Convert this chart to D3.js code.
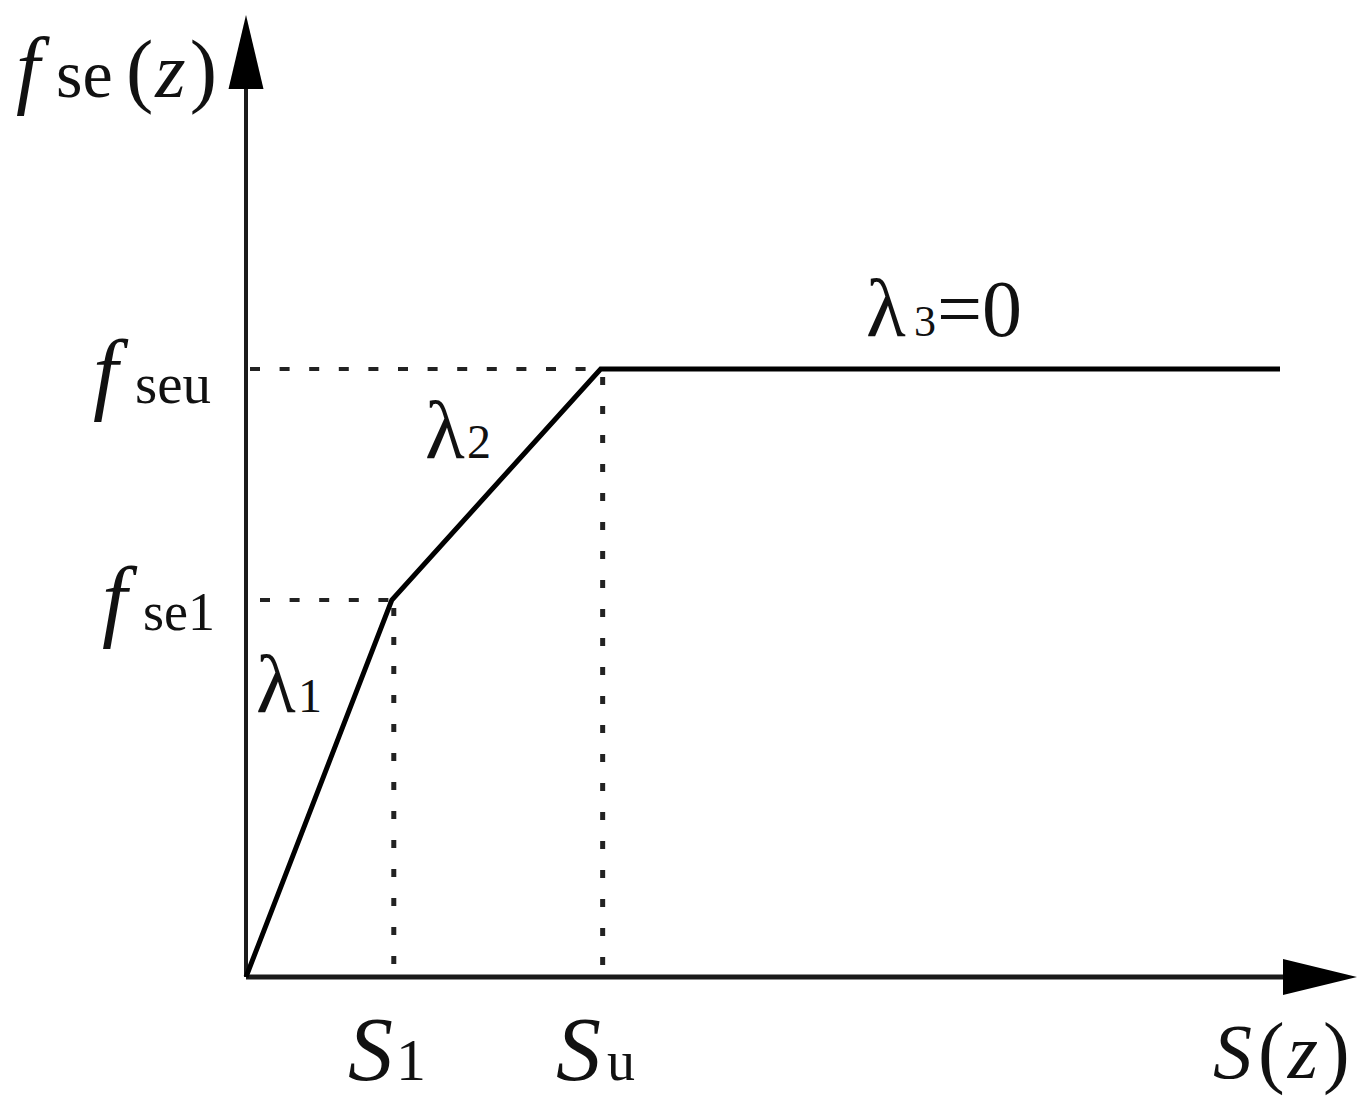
<!DOCTYPE html>
<html>
<head>
<meta charset="utf-8">
<script src="https://cdn.jsdelivr.net/npm/d3@7.9.0/dist/d3.min.js"></script>
<style>
  body { margin: 0; background: #fff; }
  svg { display: block; }
  text { font-family: "Liberation Serif", "Times New Roman", serif; fill: #111; }
</style>
</head>
<body>
<div id="chart"></div>
<script>
// breakpoints of the trilinear model (arbitrary units)
const sLabels = ["S1", "Su"];
const sValues = [14.1, 34.3];
const fLabels = ["fse1", "fseu"];
const fValues = [62.0, 100];
const curveS = [0, 14.1, 34.3, 100];
const curveF = [0, 62.0, 100, 100];
const slopeLabels = ["1", "2", "3=0"];

const width = 1371;
const height = 1117;

const xScale = d3.scaleLinear().domain([0, 100]).range([246, 1280]);
const yScale = d3.scaleLinear().domain([0, 100]).range([977, 369]);

const svg = d3.select("#chart")
  .append("svg")
  .attr("width", width)
  .attr("height", height);

// dotted guide lines
const guides = svg.append("g").attr("class", "guides");

fValues.forEach((f, i) => {
  guides.append("line")
    .attr("x1", xScale(0) + (i === 0 ? 14 : 4))
    .attr("x2", xScale(sValues[i]))
    .attr("y1", yScale(f))
    .attr("y2", yScale(f))
    .attr("stroke", "#222")
    .attr("stroke-width", 4)
    .attr("stroke-dasharray", "10 19.6");

  guides.append("line")
    .attr("x1", xScale(sValues[i]) + 2)
    .attr("x2", xScale(sValues[i]) + 2)
    .attr("y1", yScale(f) + 8)
    .attr("y2", yScale(0))
    .attr("stroke", "#222")
    .attr("stroke-width", 5)
    .attr("stroke-dasharray", "8 21");
});

// axes
const axisTipX = xScale.invert(1357);
const axisTipY = yScale.invert(15);

svg.append("line")
  .attr("x1", xScale(0)).attr("x2", xScale(axisTipX) - 70)
  .attr("y1", yScale(0)).attr("y2", yScale(0))
  .attr("stroke", "#1a1a1a").attr("stroke-width", 5);

svg.append("line")
  .attr("x1", xScale(0)).attr("x2", xScale(0))
  .attr("y1", yScale(0)).attr("y2", yScale(axisTipY) + 70)
  .attr("stroke", "#1a1a1a").attr("stroke-width", 4);

// arrow heads
const tx = xScale(axisTipX), ty = yScale(0);
svg.append("path")
  .attr("d", `M${tx},${ty} L${tx - 74},${ty - 18} L${tx - 74},${ty + 18} Z`)
  .attr("fill", "#000");

const ax = xScale(0), ay = yScale(axisTipY);
svg.append("path")
  .attr("d", `M${ax},${ay} L${ax - 17.5},${ay + 74} L${ax + 17.5},${ay + 74} Z`)
  .attr("fill", "#000");

// the curve
const line = d3.line()
  .x(d => xScale(d[0]))
  .y(d => yScale(d[1]));

svg.append("path")
  .datum(d3.zip(curveS, curveF))
  .attr("d", line)
  .attr("fill", "none")
  .attr("stroke", "#000")
  .attr("stroke-width", 5)
  .attr("stroke-linejoin", "miter");

// y axis title
const yTitle = svg.append("text").attr("y", 97);
yTitle.append("tspan").attr("x", 16).attr("font-style", "italic").attr("font-size", 86).text("f");
yTitle.append("tspan").attr("x", 56).attr("font-size", 68).text("se");
yTitle.append("tspan").attr("x", 126).attr("font-size", 82).text("(");
yTitle.append("tspan").attr("font-size", 78).attr("font-style", "italic").attr("dx", 2).text("z");
yTitle.append("tspan").attr("font-size", 82).attr("dx", 4).text(")");

// y tick labels
const fPos = [[102, 143, 630], [93, 135, 403]];
fLabels.forEach((lab, i) => {
  const t = svg.append("text").attr("y", fPos[i][2]);
  t.append("tspan").attr("x", fPos[i][0]).attr("font-style", "italic").attr("font-size", 90).text(lab[0]);
  t.append("tspan").attr("x", fPos[i][1]).attr("font-size", i === 0 ? 54 : 57).text(lab.slice(1));
});

// x tick labels
const sPos = [[348, 396], [556, 607]];
sLabels.forEach((lab, i) => {
  const t = svg.append("text").attr("y", 1080);
  t.append("tspan").attr("x", sPos[i][0]).attr("font-style", "italic").attr("font-size", 90).text(lab[0]);
  t.append("tspan").attr("x", sPos[i][1]).attr("font-size", i === 0 ? 60 : 56).text(lab.slice(1));
});

// x axis title
const xTitle = svg.append("text").attr("x", 1213).attr("y", 1078);
xTitle.append("tspan").attr("font-style", "italic").attr("font-size", 78).text("S");
xTitle.append("tspan").attr("font-size", 80).attr("dx", 6).text("(");
xTitle.append("tspan").attr("font-style", "italic").attr("font-size", 78).attr("dx", 3).text("z");
xTitle.append("tspan").attr("font-size", 80).attr("dx", 5).text(")");

// slope labels
const slopePos = [[256, 712, 298], [425, 458, 467], [866, 336, 914]];
slopeLabels.forEach((lab, i) => {
  const t = svg.append("text").attr("y", slopePos[i][1]);
  t.append("tspan").attr("x", slopePos[i][0]).attr("font-size", 82).text("λ");
  t.append("tspan").attr("x", slopePos[i][2]).attr("font-size", i === 2 ? 44 : 48).text(lab[0]);
  if (lab.length > 1) {
    t.append("tspan").attr("x", 937).attr("font-size", 80).text(lab.slice(1));
  }
});
</script>
</body>
</html>
